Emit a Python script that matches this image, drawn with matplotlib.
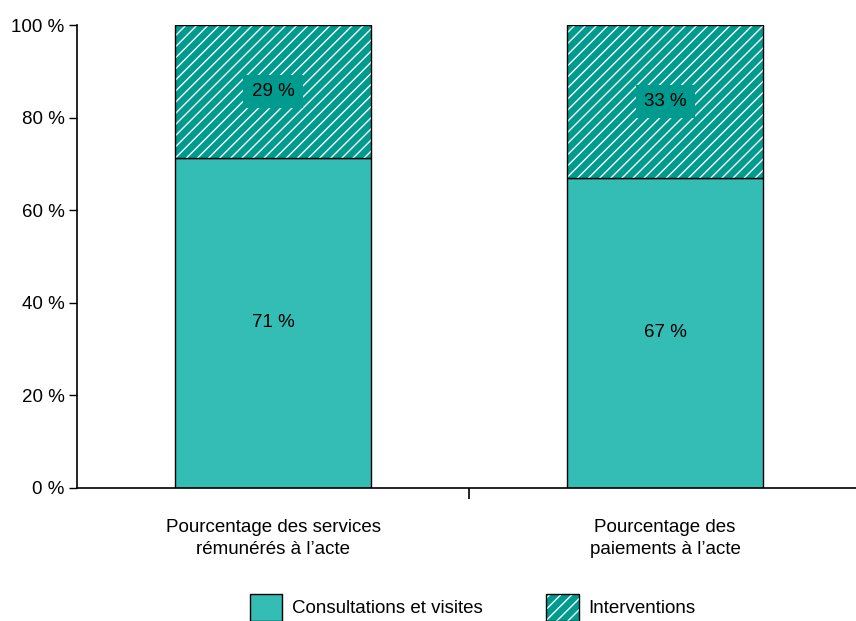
import matplotlib
matplotlib.use("Agg")
import matplotlib.pyplot as plt
from matplotlib.patches import Patch
from matplotlib.legend_handler import HandlerTuple

plt.rcParams['font.family'] = ['Liberation Sans', 'DejaVu Sans']
plt.rcParams['hatch.linewidth'] = 1.0

categories = ["Pourcentage des services\nrémunérés à l\u2019acte",
              "Pourcentage des\npaiements à l\u2019acte"]
consultations = [71.3, 67.0]
interventions = [28.7, 33.0]
labels_consult = ["71 %", "67 %"]
labels_interv = ["29 %", "33 %"]
yticks = [0, 20, 40, 60, 80, 100]

light = '#33bdb5'
dark = '#009b8f'
fs = 13.5

fig = plt.figure(figsize=(8.56, 6.21), dpi=100)
ax = fig.add_axes([0.09, 0.2142, 0.91, 0.7455])

x = list(range(len(categories)))
ax.bar(x, consultations, width=0.5, color=light, edgecolor='black', linewidth=1)
# hatch in white, then outline in black
ax.bar(x, interventions, width=0.5, bottom=consultations, color=dark,
       edgecolor='white', linewidth=0, hatch='///')
ax.bar(x, interventions, width=0.5, bottom=consultations, fill=False,
       edgecolor='black', linewidth=1)

for i in x:
    ax.text(i, consultations[i] / 2, labels_consult[i], ha='center', va='center', fontsize=fs)
    ax.text(i, consultations[i] + interventions[i] / 2, labels_interv[i], ha='center',
            va='center', fontsize=fs,
            bbox=dict(facecolor=dark, edgecolor='none', pad=6))

ax.set_xlim(-0.5, 1.487)
ax.set_ylim(0, 100)
ax.set_yticks(yticks)
ax.set_yticklabels([f"{v} %" for v in yticks], fontsize=fs)
ax.set_xticks(x)
ax.set_xticklabels(categories, fontsize=fs, linespacing=1.4)
ax.tick_params(axis='x', length=0, pad=22)
ax.set_xticks([0.5], minor=True)
ax.tick_params(axis='x', which='minor', length=8, width=1.2)
ax.tick_params(axis='y', length=6, width=1, pad=3)

for s in ['top', 'right']:
    ax.spines[s].set_visible(False)
ax.spines['left'].set_linewidth(1.2)
ax.spines['bottom'].set_linewidth(1.2)

h1 = Patch(facecolor=light, edgecolor='black', linewidth=1)
h2a = Patch(facecolor=dark, edgecolor='white', linewidth=0, hatch='///')
h2b = Patch(fill=False, edgecolor='black', linewidth=1)
fig.legend(handles=[h1, (h2a, h2b)], labels=['Consultations et visites', 'Interventions'],
           handler_map={tuple: HandlerTuple(ndivide=1, pad=0)},
           loc='center', bbox_to_anchor=(0.552, 0.022), ncol=2,
           frameon=False, fontsize=fs, handlelength=1.75, handleheight=1.85,
           columnspacing=3.4, handletextpad=0.5)

fig.savefig('out.png', dpi=100)
